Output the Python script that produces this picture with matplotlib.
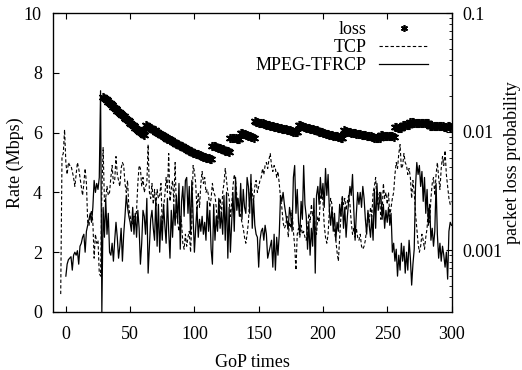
import numpy as np
import matplotlib
matplotlib.use("Agg")
import matplotlib.pyplot as plt
from matplotlib.ticker import NullFormatter, LogLocator

plt.rcParams['font.family'] = ['Liberation Serif', 'DejaVu Serif']
plt.rcParams['font.size'] = 13

# TCP rate (Mbps), one value per GoP starting at GoP -4
tcp_start = -4
tcp_rate = [
    0.6, 5.2, 5.3, 6.1, 5.0, 4.6, 5.0, 4.9, 4.9, 4.7,
    4.5, 4.2, 4.6, 5.0, 4.8, 4.5, 4.2, 3.9, 4.3, 4.8,
    4.3, 3.0, 2.9, 3.2, 3.4, 3.0, 1.8, 2.6, 2.3, 2.4,
    1.3, 1.2, 4.0, 5.5, 3.7, 3.8, 4.2, 3.9, 4.0, 4.5,
    4.9, 4.3, 4.4, 5.2, 4.6, 4.4, 4.2, 4.8, 5.0, 4.9,
    4.3, 4.0, 4.4, 3.5, 3.2, 3.0, 2.9, 3.2, 3.0, 3.4,
    4.3, 4.9, 4.8, 4.2, 4.5, 4.0, 4.2, 4.3, 5.6, 4.0,
    3.8, 4.3, 3.6, 4.1, 3.5, 4.1, 3.8, 3.9, 4.3, 2.9,
    3.5, 3.9, 4.5, 4.0, 5.3, 3.7, 4.1, 4.4, 3.7, 5.0,
    3.4, 3.0, 2.7, 3.2, 3.0, 2.3, 2.1, 2.6, 2.2, 2.5,
    2.7, 2.0, 3.0, 4.9, 4.7, 4.3, 3.4, 4.0, 3.5, 4.3,
    4.7, 4.3, 4.5, 4.0, 4.1, 3.9, 3.5, 3.8, 4.3, 4.0,
    3.9, 3.5, 2.9, 3.4, 3.8, 3.2, 4.0, 4.3, 4.8, 4.4,
    4.0, 3.8, 3.2, 3.6, 4.2, 4.6, 4.4, 3.9, 3.6, 3.5,
    3.2, 3.0, 2.8, 2.5, 2.3, 2.6, 3.0, 3.8, 4.3, 4.0,
    3.7, 4.2, 4.4, 4.0, 4.2, 4.4, 4.5, 4.8, 4.6, 4.9,
    5.0, 4.8, 5.1, 5.3, 4.9, 4.7, 4.9, 4.8, 4.5, 4.7,
    4.3, 3.8, 3.5, 3.0, 2.8, 2.9, 3.2, 2.5, 3.0, 2.8,
    3.4, 2.7, 2.2, 1.4, 2.6, 2.8, 2.5, 2.9, 2.6, 2.7,
    2.5, 2.4, 2.8, 3.3, 3.0, 3.6, 3.2, 3.4, 2.8, 2.6,
    3.2, 3.0, 3.8, 4.1, 3.7, 2.9, 2.5, 2.3, 2.6, 3.4,
    3.8, 3.6, 3.0, 2.7, 2.4, 2.0, 1.7, 2.5, 3.2, 3.9,
    3.6, 3.8, 3.4, 3.7, 3.9, 3.6, 3.0, 2.6, 2.8, 2.5,
    2.8, 2.5, 2.4, 2.6, 2.2, 2.1, 2.2, 2.4, 2.8, 3.3,
    3.0, 3.5, 3.2, 4.0, 4.2, 4.5, 3.6, 3.8, 4.0, 3.1,
    3.3, 4.3, 3.8, 4.0, 3.6, 4.0, 3.2, 3.5, 3.8, 4.0,
    4.6, 5.0, 4.8, 5.3, 5.6, 4.8, 4.9, 5.3, 5.0, 4.9,
    4.6, 4.8, 4.5, 3.8, 4.4, 4.0, 3.3, 2.8, 2.3, 2.0,
    2.2, 2.6, 2.4, 2.1, 2.5, 2.8, 3.5, 3.0, 3.8, 4.3,
    4.5, 3.9, 4.6, 5.0, 4.5, 4.1, 4.8, 5.2, 4.9, 5.4,
    4.6, 4.2, 3.8, 3.6, 3.7,
]

# MPEG-TFRCP rate (Mbps), one value per GoP starting at GoP 0
mpeg_start = 0
mpeg_rate = [
    1.2, 1.6, 1.75, 1.8, 1.85, 1.4, 1.9, 2.0, 1.9, 2.05,
    1.6, 2.2, 2.3, 2.5, 2.6, 2.0, 2.7, 2.9, 3.1, 3.3,
    3.0, 3.5, 4.4, 4.0, 4.3, 4.1, 4.5, 7.4, 0.0,
    3.5, 2.5, 3.8, 2.6, 3.3, 2.0, 1.9, 2.3, 1.7, 2.4,
    3.0, 2.5, 1.8, 2.2, 2.8, 1.7, 2.6, 3.2, 3.9, 3.5,
    3.2, 3.0, 2.7, 3.5, 2.6, 3.3, 2.5, 3.4, 2.8, 1.6,
    2.3, 3.4, 3.2, 2.6, 3.8, 1.3, 2.2, 3.1, 3.4, 2.8,
    2.4, 3.8, 2.2, 3.6, 2.0, 3.2, 2.4, 3.6, 2.9, 2.3,
    3.8, 2.7, 1.8, 3.4, 2.5, 3.6, 2.9, 3.9, 3.0, 4.3,
    2.1, 3.7, 4.2, 3.2, 4.4, 4.5, 3.3, 4.2, 2.6, 4.4,
    3.2, 2.0, 2.8, 3.5, 2.5, 3.1, 2.7, 3.2, 2.6, 3.0,
    2.4, 3.7, 2.7, 3.4, 2.1, 1.6, 3.6, 2.4, 3.2, 2.7,
    3.8, 2.8, 3.3, 2.6, 3.9, 2.4, 4.0, 1.8, 3.5, 2.0,
    3.0, 4.0, 2.7, 4.5, 3.4, 3.8, 3.2, 4.3, 3.1, 4.1,
    3.5, 3.3, 4.5, 4.2, 3.3, 4.6, 2.8, 3.8, 2.9, 2.6,
    2.5, 1.5, 2.4, 2.7, 2.8, 2.4, 2.9, 2.6, 1.8, 2.0,
    2.2, 2.4, 1.5, 2.6, 1.4, 2.5, 1.9, 2.6, 3.9, 3.7,
    4.0, 3.6, 3.3, 3.0, 2.8, 3.5, 3.2, 2.7, 4.5, 4.9,
    3.3, 4.1, 3.0, 2.6, 3.7, 3.1, 4.9, 3.6, 3.2, 2.1,
    3.0, 1.9, 2.8, 2.2, 3.8, 1.3, 3.9, 4.2, 3.6, 4.5,
    3.8, 4.3, 3.5, 4.8, 3.9, 4.6, 3.4, 2.9, 3.5, 2.7,
    3.3, 2.4, 3.0, 2.7, 3.6, 3.2, 3.8, 2.8, 3.5, 2.5,
    3.2, 3.7, 4.2, 3.9, 4.6, 3.4, 2.4, 3.3, 4.0, 3.6,
    4.0, 3.5, 4.2, 3.8, 3.1, 2.6, 3.4, 2.9, 2.5, 3.2,
    2.4, 4.1, 2.8, 4.3, 3.4, 3.7, 4.0, 3.1, 3.6, 2.8,
    3.4, 3.0, 3.5, 2.9, 3.3, 2.0, 2.3, 1.7, 2.1, 1.2,
    1.9, 1.4, 2.3, 1.7, 2.2, 1.3, 2.0, 1.4, 2.4, 1.8,
    0.9, 1.6, 2.1, 4.2, 5.0, 4.6, 4.9, 4.2, 4.7, 3.7,
    4.5, 3.3, 4.1, 2.9, 3.6, 2.4, 2.8, 2.2, 2.7, 4.3,
    2.6, 1.8, 2.3, 1.7, 2.2, 1.9, 1.5, 2.0, 1.1, 2.7,
    3.0, 2.9,
]

# packet loss probability, one value per GoP starting at GoP 29
loss_start = 29
loss_prob = [
    # 29-61
    0.0197, 0.0192, 0.0187, 0.0183, 0.0178, 0.0174, 0.0170, 0.0166, 0.0162, 0.0158,
    0.0154, 0.0150, 0.0147, 0.0143, 0.0140, 0.0137, 0.0134, 0.0131, 0.0128, 0.0125,
    0.0122, 0.0119, 0.0116, 0.0113, 0.0111, 0.0108, 0.0106, 0.0103, 0.0101, 0.0099,
    0.0097, 0.0095, 0.0093,
    # 62-113
    0.0114, 0.0112, 0.0110, 0.0108, 0.0107, 0.0105, 0.0103, 0.0102, 0.0100, 0.0099,
    0.0097, 0.0096, 0.0094, 0.0093, 0.0091, 0.0090, 0.0089, 0.0087, 0.0086, 0.0085,
    0.0084, 0.0082, 0.0081, 0.0080, 0.0079, 0.0078, 0.0077, 0.0076, 0.0075, 0.0074,
    0.0073, 0.0072, 0.0071, 0.0070, 0.0069, 0.0068, 0.0067, 0.0066, 0.0066, 0.0065,
    0.0064, 0.0064, 0.0063, 0.0062, 0.0062, 0.0061, 0.0061, 0.0060, 0.0060, 0.0060,
    0.0059, 0.0059,
    # 114-127
    0.0076, 0.0075, 0.0075, 0.0074, 0.0073, 0.0073, 0.0072, 0.0071, 0.0071, 0.0070,
    0.0069, 0.0069, 0.0068, 0.0067,
    # 128-146
    0.0089, 0.0089, 0.0088, 0.0088, 0.0088, 0.0087, 0.0087, 0.0087,
    0.0098, 0.0097, 0.0096, 0.0095, 0.0094, 0.0093, 0.0092, 0.0091, 0.0090, 0.0090,
    0.0089,
    # 147-180
    0.0122, 0.0121, 0.0120, 0.0119, 0.0118, 0.0118, 0.0117, 0.0116, 0.0115, 0.0114,
    0.0114, 0.0113, 0.0112, 0.0111, 0.0111, 0.0110, 0.0109, 0.0109, 0.0108, 0.0107,
    0.0107, 0.0106, 0.0105, 0.0105, 0.0104, 0.0103, 0.0103, 0.0102, 0.0101, 0.0101,
    0.0100, 0.0100, 0.0099, 0.0099,
    # 181-215
    0.0114, 0.0113, 0.0112, 0.0111, 0.0110, 0.0109, 0.0108, 0.0108, 0.0107, 0.0106,
    0.0105, 0.0104, 0.0103, 0.0103, 0.0102, 0.0101, 0.0100, 0.0099, 0.0099, 0.0098,
    0.0097, 0.0096, 0.0096, 0.0095, 0.0094, 0.0094, 0.0093, 0.0092, 0.0092, 0.0091,
    0.0091, 0.0090, 0.0090, 0.0089, 0.0089,
    # 216-244
    0.0102, 0.0101, 0.0101, 0.0100, 0.0099, 0.0099, 0.0098, 0.0098, 0.0097, 0.0097,
    0.0096, 0.0096, 0.0095, 0.0095, 0.0094, 0.0094, 0.0093, 0.0093, 0.0092, 0.0092,
    0.0091, 0.0091, 0.0090, 0.0090, 0.0089, 0.0089, 0.0089, 0.0088, 0.0088,
    # 245-255
    0.0093, 0.0093, 0.0092, 0.0092, 0.0092, 0.0092, 0.0091, 0.0091, 0.0091, 0.0091,
    0.0090,
    # 256-300
    0.0109, 0.0109, 0.0108, 0.0108, 0.0108, 0.0108,
    0.0114, 0.0114, 0.0113, 0.0113, 0.0113, 0.0113,
    0.0120, 0.0120, 0.0120, 0.0119, 0.0119, 0.0119, 0.0119, 0.0118, 0.0118, 0.0118,
    0.0118, 0.0117, 0.0117, 0.0117, 0.0117,
    0.0112, 0.0112, 0.0112, 0.0112, 0.0111, 0.0111, 0.0111, 0.0111, 0.0111, 0.0111,
    0.0111, 0.0110, 0.0110, 0.0110, 0.0111, 0.0111, 0.0110, 0.0110,
]

tcp_x = np.arange(tcp_start, tcp_start + len(tcp_rate))
mpeg_x = np.arange(mpeg_start, mpeg_start + len(mpeg_rate))
loss_x = np.arange(loss_start, loss_start + len(loss_prob))

fig = plt.figure(figsize=(5.22, 3.70), dpi=100)
ax = fig.add_axes([53 / 522, 1 - 312 / 370, 398.5 / 522, 299 / 370])

l_tcp, = ax.plot(tcp_x, tcp_rate, color='black', lw=0.8, dashes=[3, 2], label='TCP')
l_mpeg, = ax.plot(mpeg_x, mpeg_rate, color='black', lw=0.9, label='MPEG-TFRCP')

ax.set_xlim(-10, 300)
ax.set_ylim(0, 10)
ax.set_xticks(range(0, 301, 50))
ax.set_yticks(range(0, 11, 2))
ax.tick_params(direction='in', length=4, width=0.8, top=True, right=False, pad=8)
ax.tick_params(axis='x', pad=10)
ax.set_xlabel('GoP times', labelpad=8)
ax.set_ylabel('Rate (Mbps)', labelpad=0)
for s in ax.spines.values():
    s.set_linewidth(0.9)

ax2 = ax.twinx()
l_loss, = ax2.plot(loss_x, loss_prob, linestyle='none', marker=(6, 2, 0),
                   ms=6.5, mew=1.2, color='black', label='loss')
ax2.set_yscale('log')
ax2.set_ylim(0.0003, 0.1)
ax2.set_yticks([0.001, 0.01, 0.1], labels=['0.001', '0.01', '0.1'])
ax2.yaxis.set_minor_locator(LogLocator(base=10, subs=np.arange(2, 10)))
ax2.yaxis.set_minor_formatter(NullFormatter())
ax2.tick_params(which='major', direction='in', length=4, width=0.8, pad=8)
ax2.tick_params(which='minor', direction='in', length=2, width=0.6)
ax2.set_ylabel('packet loss probability', labelpad=1)

leg = ax2.legend([l_loss, l_tcp, l_mpeg], ['loss', 'TCP', 'MPEG-TFRCP'],
                 loc='upper right', bbox_to_anchor=(0.941, 0.973), frameon=False,
                 markerfirst=False, numpoints=1, handlelength=2.7,
                 handletextpad=0.7, labelspacing=0.05, borderpad=0, borderaxespad=0)
leg.legend_handles[0].set_markersize(5)
for col in leg._legend_handle_box.get_children():
    col.align = 'right'

fig.savefig('out.png', dpi=100)
